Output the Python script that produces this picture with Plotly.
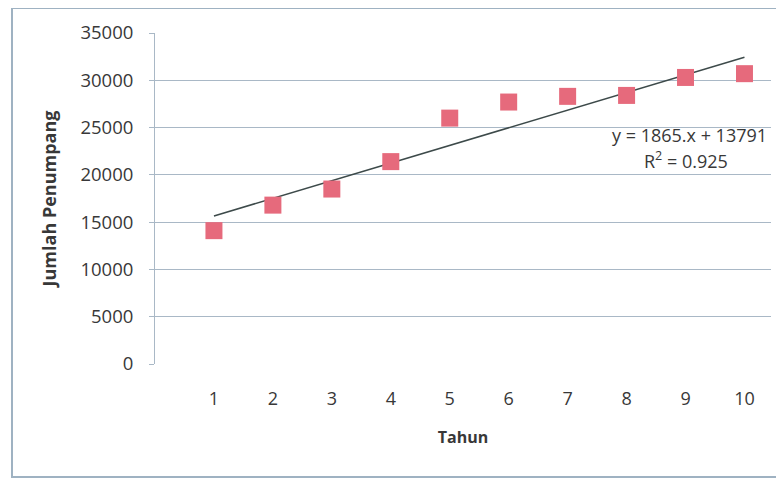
import plotly.graph_objects as go

tahun = [1, 2, 3, 4, 5, 6, 7, 8, 9, 10]
penumpang = [14100, 16800, 18500, 21400, 26000, 27700, 28300, 28400, 30300, 30700]
slope = 1865
intercept = 13791
r2 = 0.925
y_ticks = [0, 5000, 10000, 15000, 20000, 25000, 30000, 35000]
y_ticktext = [str(v) for v in y_ticks]

trend_x = [tahun[0], tahun[-1]]
trend_y = [slope * x + intercept for x in trend_x]

# page body has an 8px margin, so the figure is sized to fill the rest
OFF = 8
W, H = 784 - OFF, 479 - OFF
ml, mt = 155 - OFF, 33 - OFF
mr = W - (771 - OFF)
mb = H - (364 - OFF)
pw = W - ml - mr
ph = H - mt - mb

font = "'Open Sans', sans-serif"
txt = "#383838"


def px_x(p):
    return (p - OFF - ml) / pw


def px_y(p):
    return 1 - (p - OFF - mt) / ph


fig = go.Figure()
fig.add_trace(go.Scatter(
    x=trend_x, y=trend_y, mode="lines",
    line=dict(color="#3d4a4a", width=1.5), showlegend=False, hoverinfo="skip"))
fig.add_trace(go.Scatter(
    x=tahun, y=penumpang, mode="markers",
    marker=dict(symbol="square", size=17, color="#e66a7c", line=dict(width=0)),
    showlegend=False))

fig.add_annotation(x=px_x(769), xref="paper", xanchor="right",
                   y=px_y(135), yref="paper", yanchor="middle",
                   text=f"y = {slope}.x + {intercept}", showarrow=False,
                   font=dict(family=font, size=18, color=txt))
fig.add_annotation(x=px_x(686), xref="paper", xanchor="center",
                   y=px_y(160), yref="paper", yanchor="middle",
                   text=f"R<sup>2</sup> = {r2}", showarrow=False,
                   font=dict(family=font, size=18, color=txt))

fig.add_shape(type="rect", xref="paper", yref="paper",
              x0=px_x(12), x1=px_x(800),
              y0=px_y(477), y1=px_y(8),
              line=dict(color="#9fb2c2", width=2), layer="below")

fig.update_layout(
    width=W, height=H,
    margin=dict(l=ml, r=mr, t=mt, b=mb),
    paper_bgcolor="white", plot_bgcolor="white",
    font=dict(family=font, size=18, color=txt),
    xaxis=dict(range=[0, 10.45], tickvals=tahun, ticktext=[str(t) for t in tahun],
               ticks="", showgrid=False, automargin=False,
               zeroline=False, showline=False, ticklabelstandoff=22,
               tickfont=dict(size=18),
               title=dict(text="<b>Tahun</b>", font=dict(size=16), standoff=22)),
    yaxis=dict(range=[0, 35000], tickvals=y_ticks, ticktext=y_ticktext,
               showgrid=True, automargin=False,
               gridcolor="#a9b8c6", gridwidth=1, zeroline=False,
               showline=True, linecolor="#a9b8c6", ticks="outside",
               ticklen=5, tickcolor="#a9b8c6", ticklabelstandoff=12,
               tickfont=dict(size=18.5),
               title=dict(text="<b>Jumlah Penumpang</b>", font=dict(size=18), standoff=19)),
)

fig.write_html("out.html")
